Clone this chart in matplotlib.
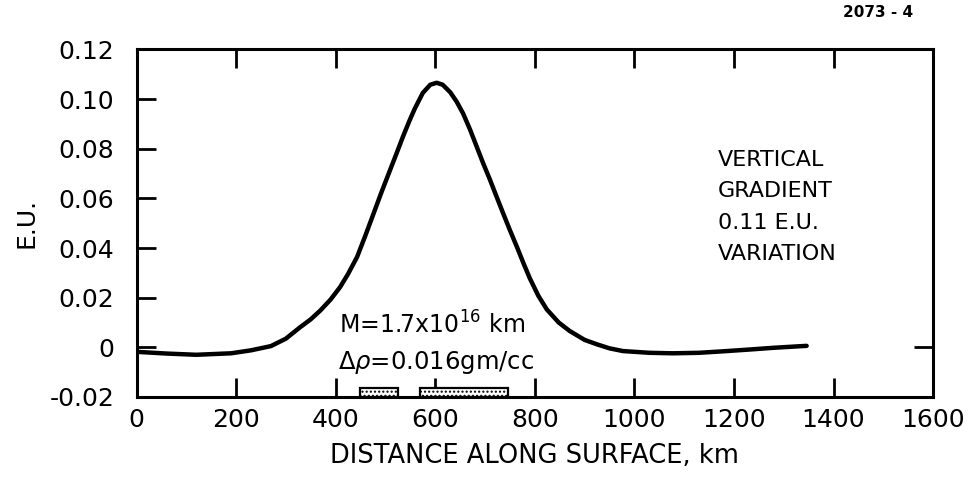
import matplotlib
matplotlib.use("Agg")
import matplotlib.pyplot as plt
from matplotlib.patches import Rectangle

# vertical gradient profile (km, E.U.)
distance_km = [0, 60, 120, 190, 230, 270, 300, 328, 350, 369, 390, 409, 425,
               443, 460, 475, 492, 510, 523, 535, 548, 559, 575, 590, 603,
               615, 630, 643, 656, 670, 683, 696, 710, 723, 736, 750, 764,
               777, 790, 807, 824, 848, 870, 900, 925, 950, 977, 1030, 1077,
               1130, 1178, 1230, 1278, 1320, 1346]
gradient_eu = [-0.0018, -0.0025, -0.0030, -0.0024, -0.0012, 0.0005, 0.0035,
               0.0080, 0.0113, 0.0148, 0.0193, 0.0243, 0.0296, 0.0364, 0.0452,
               0.0533, 0.0625, 0.0718, 0.0785, 0.0848, 0.0912, 0.0962, 0.1025,
               0.1058, 0.1066, 0.1058, 0.1028, 0.0990, 0.0942, 0.0877, 0.0810,
               0.0743, 0.0675, 0.0608, 0.0542, 0.0472, 0.0405, 0.0340, 0.0278,
               0.0208, 0.0153, 0.0100, 0.0066, 0.0030, 0.0012, -0.0004,
               -0.0015, -0.0022, -0.0024, -0.0022, -0.0016, -0.0009, -0.0002,
               0.0003, 0.0006]

# buried mass body (km), drawn in two pieces as in the original
body_pieces = [(449, 525), (569, 746)]
body_top = -0.0162

x_ticks = [0, 200, 400, 600, 800, 1000, 1200, 1400, 1600]
y_ticks = [-0.02, 0, 0.02, 0.04, 0.06, 0.08, 0.10, 0.12]
y_labels = ['-0.02', '0', '0.02', '0.04', '0.06', '0.08', '0.10', '0.12']

fig = plt.figure(figsize=(9.73, 4.94), dpi=100)
ax = fig.add_axes([0.1403, 0.1964, 0.8187, 0.7034])

ax.plot(distance_km, gradient_eu, color='black', linewidth=3.2,
        solid_capstyle='round', solid_joinstyle='round')

for start, end in body_pieces:
    ax.add_patch(Rectangle((start, -0.02), end - start, body_top + 0.02,
                           facecolor='white', edgecolor='black', linewidth=1.6,
                           hatch='....', clip_on=False, zorder=3))

ax.set_xlim(0, 1600)
ax.set_ylim(-0.02, 0.12)
ax.set_xticks(x_ticks)
ax.set_xticklabels([str(t) for t in x_ticks])
ax.set_yticks(y_ticks)
ax.set_yticklabels(y_labels)
ax.tick_params(direction='in', length=14, width=2, labelsize=18)
ax.tick_params(axis='x', pad=8)
ax.tick_params(axis='y', pad=16)

for side in ax.spines.values():
    side.set_linewidth(2.2)

top = ax.secondary_xaxis('top')
top.set_xticks(x_ticks[1:-1])
top.set_xticklabels([])
top.tick_params(direction='in', length=14, width=2)
right = ax.secondary_yaxis('right')
right.set_yticks([0])
right.set_yticklabels([])
right.tick_params(direction='in', length=14, width=2)

ax.set_xlabel('DISTANCE ALONG SURFACE, km', fontsize=18.5, labelpad=8)
ax.set_ylabel('E.U.', fontsize=18, labelpad=8)

ax.text(1168, 0.0796, 'VERTICAL\nGRADIENT\n0.11 E.U.\nVARIATION',
        fontsize=16, va='top', ha='left', linespacing=1.72)
ax.text(594, 0.009, r'M=1.7x10$^{16}$ km', fontsize=17, ha='center', va='center')
ax.text(601, -0.0063, r'$\Delta\rho$=0.016gm/cc', fontsize=17.5,
        ha='center', va='center')

fig.text(0.902, 0.974, '2073 - 4', fontsize=11, fontweight='bold',
         ha='center', va='center')

fig.savefig('out.png', dpi=100)
